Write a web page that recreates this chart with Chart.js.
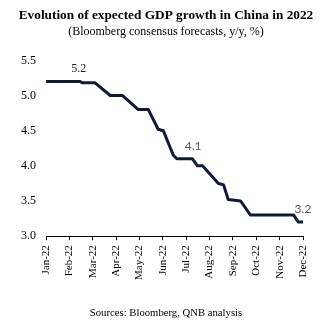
<!DOCTYPE html>
<html>
<head>
<meta charset="utf-8">
<script src="https://cdn.jsdelivr.net/npm/chart.js@4"></script>
<style>
  html, body { margin: 0; padding: 0; background: #fff; }
  .chart-box { width: 326px; height: 321px; position: relative; }
</style>
</head>
<body>
<div class="chart-box"><canvas class="gdp-chart"></canvas></div>
<script>
const monthLabels = ['Jan-22', 'Feb-22', 'Mar-22', 'Apr-22', 'May-22', 'Jun-22',
  'Jul-22', 'Aug-22', 'Sep-22', 'Oct-22', 'Nov-22', 'Dec-22'];

// x position in months since Jan-22
const forecastMonths = [0, 1.46, 1.55, 2.1, 2.75, 3.28, 3.95, 4.38, 4.8, 5.02, 5.45, 5.6,
  6.27, 6.48, 6.7, 7.38, 7.6, 7.8, 8.33, 8.75, 10.6, 10.8, 11];
const forecastValues = [5.2, 5.2, 5.18, 5.18, 5.0, 5.0, 4.8, 4.8, 4.52, 4.5, 4.15, 4.1,
  4.1, 4.0, 4.0, 3.75, 3.73, 3.52, 3.5, 3.3, 3.3, 3.2, 3.2];

const noteMonths = [1.4, 6.3, 11];
const noteValues = [5.2, 4.1, 3.2];
const noteTexts = ['5.2', '4.1', '3.2'];

const points = forecastMonths.map((m, i) => ({ x: m, y: forecastValues[i] }));

const notesPlugin = {
  id: 'notes',
  afterDatasetsDraw(chart) {
    const { ctx, scales } = chart;
    ctx.save();
    ctx.textAlign = 'center';
    ctx.textBaseline = 'middle';
    noteTexts.forEach((txt, i) => {
      const px = scales.x.getPixelForValue(noteMonths[i]);
      const py = scales.y.getPixelForValue(noteValues[i]);
      if (i === 0) {
        ctx.font = '12px "Liberation Serif"';
        ctx.fillStyle = '#222';
      } else {
        ctx.font = '12px Lato';
        ctx.fillStyle = '#595959';
      }
      ctx.fillText(txt, px, py - 13);
    });
    ctx.restore();
  },
};

const footerPlugin = {
  id: 'footer',
  afterDraw(chart) {
    const { ctx } = chart;
    ctx.save();
    ctx.font = '10.7px "Liberation Serif"';
    ctx.fillStyle = '#000';
    ctx.textAlign = 'center';
    ctx.textBaseline = 'middle';
    ctx.fillText('Sources: Bloomberg, QNB analysis', 166, 313);
    ctx.restore();
  },
};

const canvas = document.querySelector('.gdp-chart');

new Chart(canvas, {
  type: 'line',
  data: {
    datasets: [
      {
        data: points,
        borderColor: '#0d1a3a',
        borderWidth: 3,
        pointRadius: 0,
        tension: 0,
        borderJoinStyle: 'round',
        borderCapStyle: 'round',
      },
    ],
  },
  options: {
    responsive: true,
    maintainAspectRatio: false,
    animation: false,
    layout: { padding: { left: 6, right: 0, top: 0, bottom: 36 } },
    plugins: {
      legend: { display: false },
      tooltip: { enabled: false },
      title: {
        display: true,
        text: 'Evolution of expected GDP growth in China in 2022',
        color: '#000',
        font: { family: '"Liberation Serif"', size: 13.3, weight: 'bold' },
        padding: { top: 8, bottom: 0 },
      },
      subtitle: {
        display: true,
        text: '(Bloomberg consensus forecasts, y/y, %)',
        color: '#000',
        font: { family: '"Liberation Serif"', size: 12 },
        padding: { top: 1, bottom: 21 },
      },
    },
    scales: {
      x: {
        type: 'linear',
        min: 0,
        max: 11,
        afterBuildTicks: (axis) => {
          axis.ticks = monthLabels.map((_, i) => ({ value: i }));
        },
        afterFit: (axis) => { axis.paddingRight = 23; },
        ticks: {
          callback: (v) => monthLabels[v],
          color: '#000',
          font: { family: '"Liberation Serif"', size: 11 },
          maxRotation: 90,
          minRotation: 90,
          padding: 5,
        },
        grid: {
          display: true,
          drawOnChartArea: false,
          drawTicks: true,
          tickLength: 4,
          color: '#000',
        },
        border: { display: true, color: '#000', width: 1 },
      },
      y: {
        min: 3,
        max: 5.5,
        afterFit: (axis) => { axis.width = 40; },
        ticks: {
          stepSize: 0.5,
          callback: (v) => v.toFixed(1),
          color: '#000',
          font: { family: '"Liberation Serif"', size: 12 },
          padding: 10,
        },
        grid: { display: false, drawTicks: false },
        border: { display: false },
      },
    },
  },
  plugins: [notesPlugin, footerPlugin],
});
</script>
</body>
</html>
